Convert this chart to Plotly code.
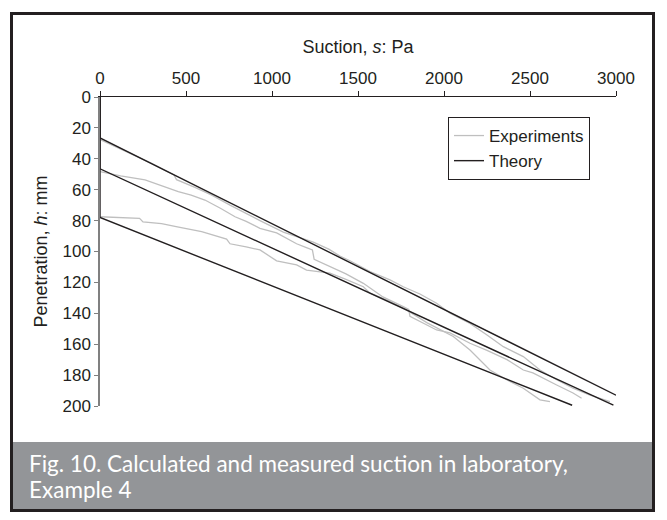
import plotly.graph_objects as go

# ---- data ----
exp_a_s = [0, 150, 300, 430, 445, 552, 650, 756, 850, 930, 1066, 1150, 1240, 1330, 1395, 1453, 1570,
           1686, 1763, 1860, 1957, 2035, 2151, 2250, 2345, 2461, 2558, 2655, 2750, 2849, 2965]
exp_a_h = [27.5, 35.5, 43, 50.5, 53.5, 58.5, 63.5, 70, 75.5, 80, 87.5, 90.5, 94, 98.5, 103, 106, 113,
           118.4, 122.8, 127.5, 133.5, 140, 146.5, 154, 161.6, 168, 176.7, 183, 188.5, 193, 197.2]

exp_b_s = [0, 120, 262, 360, 455, 530, 610, 700, 785, 850, 930, 1027, 1143, 1200, 1235, 1245, 1337, 1430,
           1531, 1645, 1763, 1795, 1802, 1957, 2035, 2151, 2250, 2366, 2461, 2517, 2655, 2750, 2800]
exp_b_h = [48.3, 51, 53.7, 57.5, 61.3, 63.5, 66.7, 72, 77.5, 80.5, 85, 88, 95, 97.5, 99, 105, 109.8, 114.5,
           120.6, 129.4, 135.7, 137.5, 142, 150.8, 152.7, 159.4, 164, 170, 176.7, 178.6, 186.4, 191.6, 195]

exp_c_s = [0, 230, 250, 358, 450, 543, 591, 736, 756, 850, 930, 1027, 1143, 1201, 1337, 1430, 1531,
           1570, 1680, 1763, 1900, 2054, 2151, 2267, 2364, 2461, 2558, 2616]
exp_c_h = [77.5, 78.5, 80.8, 82, 84, 86, 87.2, 92, 95, 97, 99, 106, 108.7, 112, 114, 118, 122.8,
           127, 132, 136.6, 146, 155, 163.8, 176.7, 183, 188.5, 196, 197.2]

theory_s = [[0, 0, 3000], [0, 0, 2985], [0, 0, 2745]]
theory_h = [[0, 26.5, 193], [0, 46.5, 199.5], [0, 78, 199.5]]

x_ticks = [0, 500, 1000, 1500, 2000, 2500, 3000]
y_ticks = [0, 20, 40, 60, 80, 100, 120, 140, 160, 180, 200]

caption_lines = ["Fig. 10. Calculated and measured suction in laboratory,", "Example 4"]

# ---- figure ----
W, H = 667, 520
L, R, T, B = 100, 616, 97, 406   # plot area in pixels


def px(xp):
    return (xp - L) / (R - L)


def py(yp):
    return (B - yp) / (B - T)


fig = go.Figure()
exp_color = "#bfbfbf"
th_color = "#231f20"

for i, (xs, hs) in enumerate([(exp_a_s, exp_a_h), (exp_b_s, exp_b_h), (exp_c_s, exp_c_h)]):
    fig.add_trace(go.Scatter(x=xs, y=hs, mode="lines", line=dict(color=exp_color, width=1.3),
                             name="Experiments", legendgroup="exp", showlegend=(i == 0)))
for i, (xs, hs) in enumerate(zip(theory_s, theory_h)):
    fig.add_trace(go.Scatter(x=xs, y=hs, mode="lines", line=dict(color=th_color, width=1.4),
                             name="Theory", legendgroup="th", showlegend=(i == 0)))

FONT = "Liberation Sans"
tick_font = dict(family=FONT, size=17, color="#231f20")
title_font = dict(family=FONT, size=18, color="#231f20")

fig.update_layout(
    width=W, height=H,
    margin=dict(l=L, r=W - R, t=T, b=H - B),
    paper_bgcolor="white", plot_bgcolor="white",
    showlegend=True,
    font=dict(family=FONT),
    legend=dict(x=px(448), y=py(117), xanchor="left", yanchor="top",
                bordercolor="#231f20", borderwidth=1, bgcolor="white",
                font=dict(family=FONT, size=17, color="#231f20"),
                tracegroupgap=0, itemwidth=30),
    xaxis=dict(side="top", range=[0, 3000], tickvals=x_ticks, ticks="outside", ticklen=5,
               tickcolor="#231f20", showline=True, linecolor="#231f20", linewidth=1.2,
               showgrid=False, zeroline=False, tickfont=tick_font,
               title=dict(text="Suction, <i>s</i>: Pa", font=title_font, standoff=10)),
    yaxis=dict(range=[200, 0], tickvals=y_ticks, ticks="outside", ticklen=4,
               tickcolor="#808080", showline=True, linecolor="#808080", linewidth=1.5,
               showgrid=False, zeroline=False, tickfont=tick_font,
               title=dict(text="Penetration, <i>h</i>: mm", font=title_font, standoff=10)),
)

# outer frame and caption band
fig.add_shape(type="rect", xref="paper", yref="paper", x0=px(11.5), x1=px(653.5), y0=py(510), y1=py(442),
              fillcolor="#939598", line=dict(width=0), layer="below")
fig.add_shape(type="rect", xref="paper", yref="paper", x0=px(11.5), x1=px(653.5), y0=py(510.5), y1=py(13.5),
              fillcolor="rgba(0,0,0,0)", line=dict(color="#231f20", width=3))

for k, line in enumerate(caption_lines):
    fig.add_annotation(text=line, xref="paper", yref="paper", x=px(27), y=py(463 + 27 * k),
                       xanchor="left", yanchor="middle", showarrow=False,
                       font=dict(family="Lato", size=22.5, color="white"))

fig.write_html("out.html")
